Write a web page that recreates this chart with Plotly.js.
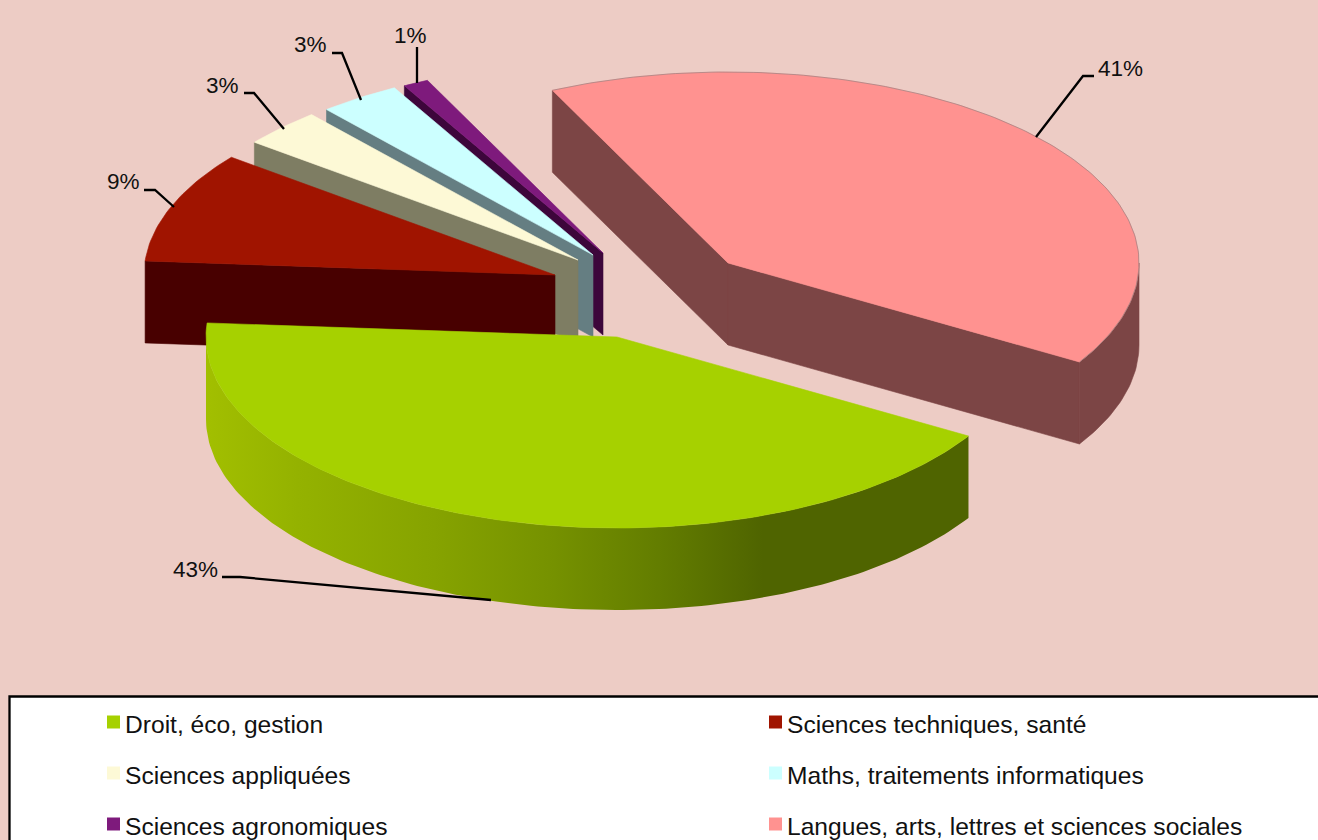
<!DOCTYPE html>
<html><head><meta charset="utf-8">
<script src="https://cdn.plot.ly/plotly-3.0.1.min.js"></script>
<style>html,body{margin:0;padding:0;background:#edccc5}#c{width:1318px;height:840px}</style>
</head><body><div id="c"></div>
<script>
// DATA
const categories = ["Langues, arts, lettres et sciences sociales","Droit, éco, gestion","Sciences techniques, santé","Sciences appliquées","Maths, traitements informatiques","Sciences agronomiques"];
const shares = [40.7, 42.5, 9.4, 3.2, 3.2, 1.0];
const topColors = ["#ff9290","#a6d100","#a01400","#fdf9d6","#ccffff","#7e1a7c"];
const sideColors = ["#7c4545","#4f6400","#480000","#7e7d63","#657e82","#3d063b"];

// LAYOUT OF THE EXPLODED 3D PIE
const RX = 411, RY = 191, DEPTH = 82, START = 115.3;
const apexes = [[728,263],[617,337],[555,275],[578,260],[593,255],[603,253]];
const labelPos = [[1096,68,"left"],[220,569,"right"],[142,181,"right"],[241,85,"right"],[329,44,"right"],[429,35,"right"]];
const leaders = ["M1036,137L1083,76L1094,76","M491,600L240,577L222,577","M174,207L155,190L144,190","M284,129L254,93L244,93","M361,100L342,53L332,53","M417,83L417,47"];
const legendOrder = [1,2,3,4,5,0];
const legendCols = [113.5,775.5], legendRows = [722,773,824];
const greenWall = [[0,"#a2bf00"],[0.12,"#94b200"],[0.3,"#86a300"],[0.45,"#769200"],[0.6,"#627c00"],[0.73,"#4f6400"],[1,"#4f6400"]];

const rad = d => d*Math.PI/180;
function arc(a, t0, t1, dy){
  const n = Math.max(4, Math.ceil(Math.abs(t1-t0))), xs=[], ys=[];
  for(let i=0;i<=n;i++){ const t=rad(t0+(t1-t0)*i/n); xs.push(a[0]+RX*Math.cos(t)); ys.push(a[1]-RY*Math.sin(t)+dy); }
  return [xs,ys];
}
function poly(xs,ys,color,extra){
  return Object.assign({type:"scatter",mode:"lines",x:xs.concat(xs[0]),y:ys.concat(ys[0]),fill:"toself",fillcolor:color,line:{width:0.6,color:color},hoverinfo:"skip",showlegend:false},extra||{});
}
function topFace(a,t0,t1,color){ const [x,y]=arc(a,t0,t1,0); return poly([a[0],...x],[a[1],...y],color); }
function wall(a,t0,t1,color,extra){
  const [x,y]=arc(a,t0,t1,0), [x2,y2]=arc(a,t1,t0,DEPTH);
  return poly([...x,...x2],[...y,...y2],color,extra);
}
function radial(a,t,color){
  const [x,y]=arc(a,t,t,0), px=x[0], py=y[0];
  return poly([px,a[0],a[0],px],[py,a[1],a[1]+DEPTH,py+DEPTH],color);
}
let ang = START; const bounds = shares.map(s=>{const b=[ang,ang-s*3.6]; ang=b[1]; return b;});
const traces = [];
// pink slice (back right)
traces.push(radial(apexes[0],bounds[0][0],sideColors[0]), radial(apexes[0],bounds[0][1],sideColors[0]),
            wall(apexes[0],0,bounds[0][1],sideColors[0]), topFace(apexes[0],bounds[0][0],bounds[0][1],topColors[0]));
const [rimX,rimY] = arc(apexes[0],bounds[0][0],bounds[0][1],0);
traces.push({type:"scatter",mode:"lines",x:rimX,y:rimY,line:{width:1,color:"rgba(130,120,120,0.55)"},hoverinfo:"skip",showlegend:false});
// small slices, back to front
[5,4,3,2].forEach(i=>{
  traces.push(radial(apexes[i],bounds[i][0],sideColors[i]), topFace(apexes[i],bounds[i][0],bounds[i][1],topColors[i]));
});
// green slice (front)
traces.push(wall(apexes[1],-180,bounds[1][0],sideColors[1],{fillgradient:{type:"horizontal",colorscale:greenWall},line:{width:0}}),
            topFace(apexes[1],bounds[1][0],bounds[1][1],topColors[1]));
// legend
legendOrder.forEach((c,k)=>{
  traces.push({type:"scatter",mode:"markers",x:[legendCols[k%2]],y:[legendRows[k>>1]],marker:{symbol:"square",size:13,color:topColors[c],line:{width:0}},
    hoverinfo:"skip",showlegend:false});
});
const annotations = shares.map((s,i)=>({xref:"x",yref:"y",x:labelPos[i][0],y:labelPos[i][1],text:Math.round(s)+"%",showarrow:false,xanchor:labelPos[i][2],yanchor:"middle",font:{family:"Liberation Sans",size:22.5,color:"#111"}}));
legendOrder.forEach((c,k)=>{
  annotations.push({xref:"x",yref:"y",x:legendCols[k%2]+9.5,y:legendRows[k>>1]+2,text:categories[c],showarrow:false,xanchor:"left",yanchor:"middle",font:{family:"Liberation Sans",size:24.6,color:"#111"}});
});
const shapes = leaders.map(p=>({type:"path",path:p,xref:"x",yref:"y",line:{color:"#000",width:2.3},layer:"above"}));
shapes.unshift({type:"rect",xref:"x",yref:"y",x0:9.5,y0:696.5,x1:1330,y1:860,fillcolor:"#fff",line:{color:"#000",width:2.3},layer:"below"});
Plotly.newPlot("c",traces,{
  width:1318,height:840,margin:{l:0,r:0,t:0,b:0,pad:0},paper_bgcolor:"#edccc5",plot_bgcolor:"#edccc5",
  showlegend:false,shapes,annotations,
  xaxis:{range:[0,1318],visible:false,fixedrange:true},
  yaxis:{range:[840,0],visible:false,fixedrange:true}
},{displayModeBar:false,staticPlot:true});
</script></body></html>
